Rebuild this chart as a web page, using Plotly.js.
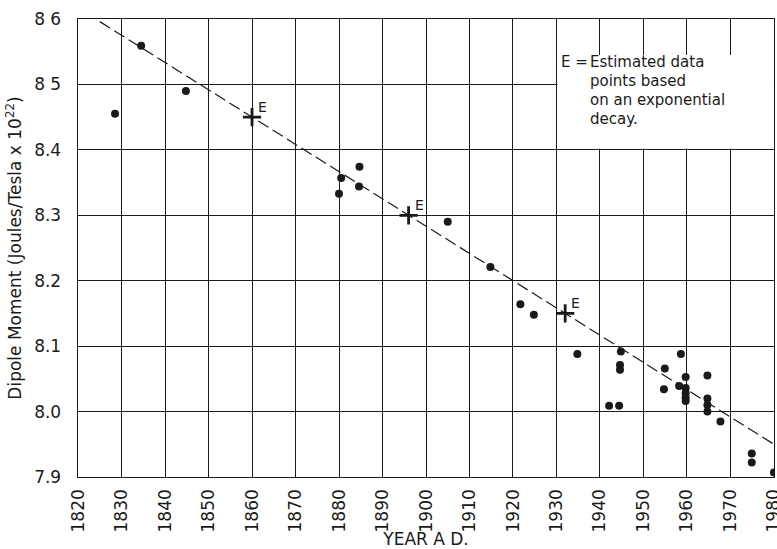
<!DOCTYPE html>
<html>
<head>
<meta charset="utf-8">
<script src="https://cdn.plot.ly/plotly-3.0.1.min.js"></script>
<style>html,body{margin:0;padding:0;background:#fff;}#chart{width:777px;height:549px;}</style>
</head>
<body>
<div id="chart"></div>
<script>
// Observed dipole moment measurements
const obsYears = [1828.5, 1834.5, 1844.8, 1880.0, 1880.5, 1884.7, 1884.6, 1905.0, 1914.8,
  1921.7, 1924.8, 1934.8, 1944.8, 1944.6, 1944.6, 1942.1, 1944.4, 1954.9, 1954.7,
  1958.6, 1958.2, 1959.7, 1959.7, 1959.7, 1959.7, 1959.7, 1964.7, 1964.7, 1964.7,
  1964.7, 1967.7, 1974.9, 1974.9, 1980.0];
const obsMoment = [8.455, 8.559, 8.490, 8.333, 8.357, 8.374, 8.344, 8.290, 8.221,
  8.164, 8.148, 8.088, 8.092, 8.071, 8.064, 8.009, 8.009, 8.066, 8.034,
  8.088, 8.039, 8.053, 8.036, 8.028, 8.021, 8.016, 8.055, 8.020, 8.010,
  8.000, 7.985, 7.936, 7.922, 7.907];

// Estimated points (E)
const estYears = [1860, 1896, 1932];
const estMoment = [8.45, 8.30, 8.15];
const estLabels = ["E", "E", "E"];

// Dashed decay line
const fitYears = [1825, 1980];
const fitMoment = [8.596, 7.950];

// Axis ticks
const xTicks = [1820, 1830, 1840, 1850, 1860, 1870, 1880, 1890, 1900, 1910, 1920, 1930, 1940, 1950, 1960, 1970, 1980];
const xTickText = xTicks.map(String);
const yTicks = [7.9, 8.0, 8.1, 8.2, 8.3, 8.4, 8.5, 8.6];
const yTickText = ["7.9", "8.0", "8.1", "8.2", "8.3", "8.4", "8 5", "8 6"];

const noteLines = ["Estimated data", "points based", "on an exponential", "decay."];

const FONT = "DejaVu Sans, Arial, sans-serif";
const INK = "#1a1a1a";

const traces = [
  {
    x: fitYears, y: fitMoment, mode: "lines", type: "scatter",
    line: {color: INK, width: 1.2, dash: "12px,5px"}, hoverinfo: "skip"
  },
  {
    x: obsYears, y: obsMoment, mode: "markers", type: "scatter",
    marker: {color: INK, size: 8, symbol: "circle"}
  },
  {
    x: estYears, y: estMoment, mode: "markers", type: "scatter",
    marker: {symbol: "cross-thin", size: 13, line: {color: INK, width: 2.8}, color: INK}
  }
];

const annotations = estYears.map((yr, i) => ({
  x: yr, y: estMoment[i], xref: "x", yref: "y", text: estLabels[i], showarrow: false,
  xanchor: "left", yanchor: "bottom", xshift: 4, yshift: 0,
  font: {family: FONT, size: 14, color: INK}
}));

annotations.push({
  x: 1930.6, y: 8.534, xref: "x", yref: "y", text: "E =", showarrow: false,
  xanchor: "left", yanchor: "middle", font: {family: FONT, size: 15, color: INK}
});
noteLines.forEach((t, i) => {
  annotations.push({
    x: 1937.3, y: 8.534 - i * 0.0287, xref: "x", yref: "y", text: t, showarrow: false,
    xanchor: "left", yanchor: "middle", font: {family: FONT, size: 15, color: INK}
  });
});

const layout = {
  width: 777, height: 549,
  margin: {l: 78, r: 3, t: 19, b: 72, pad: 0},
  paper_bgcolor: "#fff", plot_bgcolor: "#fff",
  showlegend: false,
  font: {family: FONT, color: INK},
  xaxis: {
    range: [1819.99, 1980.01], tickvals: xTicks, ticktext: xTickText, tickangle: -90,
    tickfont: {family: FONT, size: 17, color: INK},
    showgrid: true, gridcolor: INK, gridwidth: 1,
    showline: true, linecolor: INK, linewidth: 1.4, mirror: true,
    zeroline: false, ticks: "", ticklabelstandoff: 4, ticklabeloverflow: "allow",
    title: {text: "YEAR A D.", font: {family: FONT, size: 17, color: INK}, standoff: 4},
    automargin: false
  },
  yaxis: {
    range: [7.9, 8.6], tickvals: yTicks, ticktext: yTickText,
    tickfont: {family: FONT, size: 17, color: INK},
    showgrid: true, gridcolor: INK, gridwidth: 1,
    showline: true, linecolor: INK, linewidth: 1.4, mirror: true,
    zeroline: false, ticks: "", ticklabelstandoff: 12,
    title: {text: "Dipole Moment (Joules/Tesla x 10<sup>22</sup>)", font: {family: FONT, size: 17, color: INK}, standoff: 8},
    automargin: false
  },
  shapes: [{
    type: "rect", xref: "x", yref: "y", x0: 1930.25, x1: 1980, y0: 8.402, y1: 8.545,
    fillcolor: "#fff", line: {width: 0}, layer: "between"
  }],
  annotations: annotations
};

Plotly.newPlot("chart", traces, layout, {displayModeBar: false, staticPlot: true});
</script>
</body>
</html>
